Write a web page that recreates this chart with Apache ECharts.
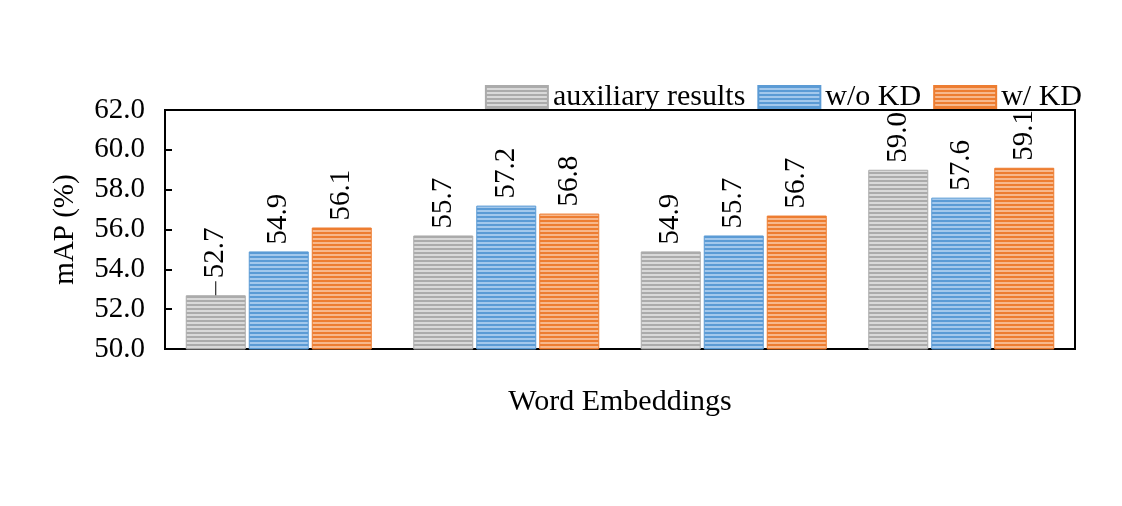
<!DOCTYPE html>
<html><head><meta charset="utf-8">
<script src="https://cdn.jsdelivr.net/npm/echarts@6/dist/echarts.min.js"></script>
<style>html,body{margin:0;padding:0;background:#fff}#c{width:1122px;height:506px}</style>
</head><body><div id="c"></div>
<script>
const categories = ['Embedding A', 'Embedding B', 'Embedding C', 'Embedding D'];
const seriesNames = ['auxiliary results', 'w/o KD', 'w/ KD'];
const auxiliary = [52.7, 55.7, 54.9, 59.0];
const withoutKD = [54.9, 57.2, 55.7, 57.6];
const withKD = [56.1, 56.8, 56.7, 59.1];
const yTicks = [50, 52, 54, 56, 58, 60, 62];

function stripe(base, light) {
  const c = document.createElement('canvas');
  c.width = 4; c.height = 4;
  const g = c.getContext('2d');
  g.fillStyle = base; g.fillRect(0, 0, 4, 4);
  g.fillStyle = light; g.fillRect(0, 2, 4, 2);
  return { image: c, repeat: 'repeat' };
}
const palette = [
  { base: '#ababab', light: '#d9d9d9' },
  { base: '#5b9bd5', light: '#a3c8ec' },
  { base: '#ed7d31', light: '#f7b88c' }
];
const FONT = 'Liberation Serif';
const chart = echarts.init(document.getElementById('c'));
const datasets = [auxiliary, withoutKD, withKD];
const series = datasets.map((d, i) => ({
  name: seriesNames[i],
  type: 'bar',
  data: d.map((v, j) => (i === 0 && j === 0) ? {
    value: v,
    label: {
      distance: 0,
      formatter: p => '{ln|}{t|' + p.value.toFixed(1) + '}',
      rich: {
        ln: { width: 14, height: 1, backgroundColor: '#000', verticalAlign: 'middle' },
        t: { fontFamily: FONT, fontSize: 29, color: '#000', padding: [0, 0, 0, 3] }
      }
    }
  } : v),
  barWidth: 60,
  barGap: '5%',
  itemStyle: { color: stripe(palette[i].base, palette[i].light), borderColor: palette[i].base, borderWidth: 1, borderRadius: 0 },
  label: {
    show: true, position: 'top', rotate: 90, align: 'left', verticalAlign: 'middle', distance: 7,
    formatter: p => p.value.toFixed(1), fontFamily: FONT, fontSize: 29, color: '#000'
  }
}));
chart.setOption({
  animation: false,
  textStyle: { fontFamily: FONT },
  legend: {
    right: 35, top: 77, itemWidth: 62, itemHeight: 22, itemGap: 12, icon: 'rect',
    textStyle: { fontFamily: FONT, fontSize: 30, color: '#000' },
    data: seriesNames
  },
  grid: { left: 165, right: 47, top: 110, bottom: 157, show: true, borderColor: '#000', borderWidth: 2 },
  xAxis: {
    type: 'category', data: categories,
    axisLabel: { show: false }, axisTick: { show: false },
    axisLine: { lineStyle: { color: '#000', width: 2 } },
    name: 'Word Embeddings', nameLocation: 'middle', nameGap: 38,
    nameTextStyle: { fontFamily: FONT, fontSize: 30, color: '#000' }
  },
  yAxis: {
    type: 'value', min: yTicks[0], max: yTicks[yTicks.length - 1], interval: 2,
    axisLine: { show: true, lineStyle: { color: '#000', width: 2 } },
    axisTick: { show: true, inside: true, length: 7, lineStyle: { color: '#000', width: 2 } },
    splitLine: { show: false },
    axisLabel: { formatter: v => v.toFixed(1), fontFamily: FONT, fontSize: 29, color: '#000', margin: 20 },
    name: 'mAP (%)', nameLocation: 'middle', nameGap: 85,
    nameTextStyle: { fontFamily: FONT, fontSize: 29, color: '#000' }
  },
  series: series
});
</script></body></html>
